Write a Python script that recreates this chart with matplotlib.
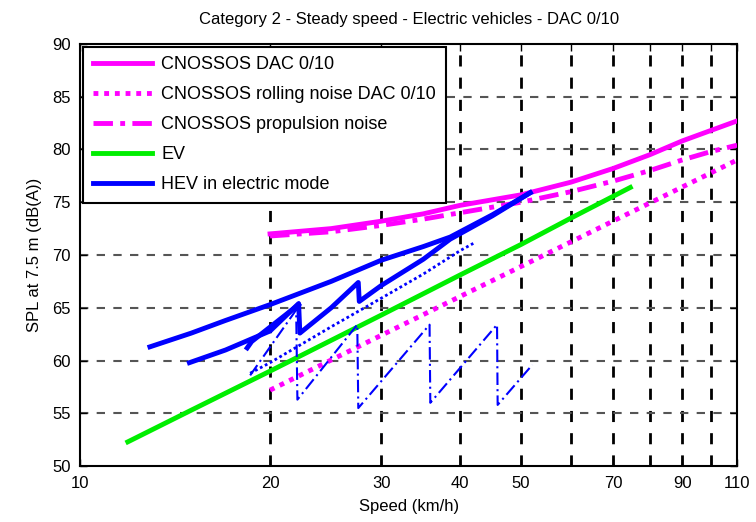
import matplotlib
matplotlib.use("Agg")
import matplotlib.pyplot as plt

plt.rcParams['font.family'] = ['Liberation Sans', 'DejaVu Sans']

# CNOSSOS curves (speed km/h, level dB(A))
cn_speed = [20, 25, 30, 35, 40, 50, 60, 70, 80, 90, 100, 110]
cn_total = [72.0, 72.5, 73.2, 73.9, 74.7, 75.7, 76.9, 78.2, 79.5, 80.8, 81.8, 82.7]
cn_prop = [71.8, 72.2, 72.8, 73.4, 74.0, 75.0, 76.0, 77.0, 78.0, 79.0, 79.8, 80.4]
roll_speed = [20, 110]
roll_level = [57.2, 79.0]

# EV
ev_speed = [11.9, 15, 20, 30, 40, 50, 60, 74.5]
ev_level = [52.3, 55.3, 59.0, 64.3, 68.1, 71.0, 73.5, 76.4]

# HEV in electric mode, several runs
hev1_speed = [12.9, 15, 17, 20, 25, 30, 35, 38.6, 45, 51.7]
hev1_level = [61.3, 62.6, 63.8, 65.3, 67.5, 69.5, 70.8, 71.7, 73.8, 75.9]
hev2_speed = [14.9, 17, 20, 22.2, 22.3, 25, 27.6, 27.7, 30, 35, 38.6, 45, 51.7]
hev2_level = [59.8, 61.0, 62.8, 65.4, 62.6, 65.0, 67.4, 65.6, 67.1, 69.6, 71.5, 73.7, 75.9]
hev3_speed = [18.4, 18.7, 22.2]
hev3_level = [61.2, 61.8, 65.3]
hev4_speed = [18.6, 20, 25, 30, 35, 40, 42]
hev4_level = [58.8, 59.8, 63.2, 65.9, 68.2, 70.4, 71.1]
hev5_speed = [18.6, 22.0, 22.1, 27.5, 27.6, 35.8, 35.9, 45.8, 45.9, 52.1]
hev5_level = [58.6, 64.8, 56.3, 63.4, 55.5, 63.4, 56.0, 63.4, 55.8, 59.6]

xticks = [10, 20, 30, 40, 50, 60, 70, 80, 90, 100, 110]
xlabels = ['10', '20', '30', '40', '50', '', '70', '', '90', '', '110']
yticks = [50, 55, 60, 65, 70, 75, 80, 85, 90]

fig = plt.figure(figsize=(7.56, 5.22), dpi=100)
ax = fig.add_axes([0.106, 0.107, 0.869, 0.809])

mag = '#ff00ff'
blue = '#0000ff'

# grid first so curves sit on top
for x in xticks[1:-1]:
    ax.axvline(x, color='black', lw=2, ls=(0, (4, 4)), zorder=1)
for y in yticks[1:-1]:
    ax.axhline(y, color='#555555', lw=1.5, ls=(0, (4, 4)), zorder=1)

ax.plot(cn_speed, cn_total, color=mag, lw=3.5, zorder=3, label='CNOSSOS DAC 0/10')
ax.plot(roll_speed, roll_level, color=mag, lw=3.5, ls=(0, (1, 1.2)), zorder=3,
        label='CNOSSOS rolling noise DAC 0/10')
ax.plot(cn_speed, cn_prop, color=mag, lw=3.5, ls=(0, (4, 1.5, 1, 1.5)), zorder=3,
        label='CNOSSOS propulsion noise')
ax.plot(ev_speed, ev_level, color='#00ee00', lw=3.5, zorder=3, label='EV')
ax.plot(hev1_speed, hev1_level, color=blue, lw=3.5, zorder=4, label='HEV in electric mode')
ax.plot(hev2_speed, hev2_level, color=blue, lw=3.5, zorder=4)
ax.plot(hev3_speed, hev3_level, color=blue, lw=3.5, zorder=4)
ax.plot(hev4_speed, hev4_level, color=blue, lw=2, ls=(0, (1, 1)), zorder=4)
ax.plot(hev5_speed, hev5_level, color=blue, lw=1.5, ls=(0, (6, 2, 1, 2)), zorder=4)

ax.set_xscale('log')
ax.set_xlim(10, 110)
ax.set_ylim(50, 90)
ax.set_xticks(xticks)
ax.set_xticklabels(xlabels)
ax.minorticks_off()
ax.set_yticks(yticks)
ax.tick_params(direction='in', top=True, right=True, labelsize=12, length=5, width=1, pad=7)
for s in ax.spines.values():
    s.set_linewidth(1.5)

ax.set_xlabel('Speed (km/h)', fontsize=12, labelpad=6)
ax.set_ylabel('SPL at 7.5 m (dB(A))', fontsize=12, labelpad=7)
ax.set_title('Category 2 - Steady speed - Electric vehicles - DAC 0/10', fontsize=12, pad=14)

leg = ax.legend(loc='upper left', fontsize=13, handlelength=3.3, frameon=True,
                fancybox=False, borderaxespad=0.15, labelspacing=0.72, borderpad=0.55,
                handletextpad=0.5)
leg.get_frame().set_edgecolor('black')
leg.get_frame().set_linewidth(1.5)
leg.get_frame().set_alpha(1)
leg.set_zorder(5)

fig.savefig('out.png', dpi=100)
